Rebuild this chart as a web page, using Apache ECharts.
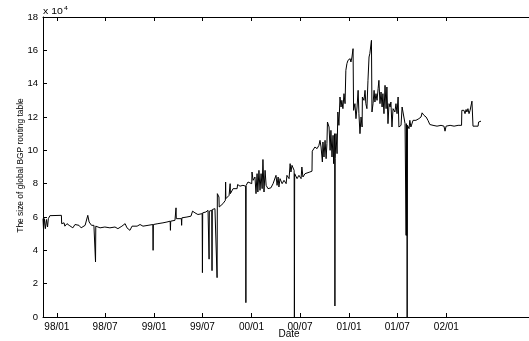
<!DOCTYPE html>
<html><head><meta charset="utf-8">
<script src="https://cdn.jsdelivr.net/npm/echarts@6/dist/echarts.min.js"></script>
<style>html,body{margin:0;padding:0;background:#fff}#c{width:529px;height:341px}</style>
</head><body><div id="c"></div>
<script>
// Size of global BGP routing table, in units of 10^4 entries
const dates = [
'1997-11-10','1997-11-12','1997-11-15','1997-11-19','1997-11-23','1997-11-27','1997-11-30','1997-12-04','1997-12-06',
'1998-01-18','1998-01-19','1998-01-28','1998-01-31','1998-02-08','1998-02-16','1998-02-23','1998-03-02','1998-03-10',
'1998-03-17','1998-03-25','1998-04-02','1998-04-09','1998-04-17','1998-04-24','1998-04-27','1998-05-02','1998-05-09',
'1998-05-11','1998-05-20','1998-05-25','1998-05-26','1998-05-27','1998-06-12','1998-06-30','1998-07-19','1998-08-07',
'1998-08-18','1998-09-02','1998-09-14','1998-09-21','1998-10-02','1998-10-10','1998-10-29','1998-11-09','1998-11-20',
'1998-12-09','1998-12-27','1998-12-28','1998-12-29','1999-01-15','1999-02-03','1999-02-18','1999-03-02','1999-03-03',
'1999-03-04','1999-03-20','1999-03-23','1999-03-24','1999-03-25','1999-04-13','1999-04-14','1999-04-15','1999-05-04',
'1999-05-19','1999-05-24','1999-05-25','1999-06-03','1999-06-14','1999-06-30','1999-07-01','1999-07-02','1999-07-14',
'1999-07-22','1999-07-25','1999-07-26','1999-07-27','1999-08-02','1999-08-05','1999-08-06','1999-08-07','1999-08-17',
'1999-08-24','1999-08-25','1999-08-26','1999-09-01','1999-09-02','1999-09-16','1999-09-25','1999-09-26','1999-09-27',
'1999-10-09','1999-10-12','1999-10-13','1999-10-14','1999-10-24','1999-10-31','1999-11-08','1999-11-10','1999-11-19',
'1999-11-30','1999-12-10','1999-12-11','1999-12-12','1999-12-19','1999-12-26','2000-01-02','2000-01-03','2000-01-07',
'2000-01-14','2000-01-18','2000-01-22','2000-01-25','2000-01-29','2000-02-02','2000-02-06','2000-02-10','2000-02-13',
'2000-02-17','2000-02-21','2000-02-25','2000-03-03','2000-03-14','2000-03-22','2000-03-29','2000-04-02','2000-04-06',
'2000-04-10','2000-04-13','2000-04-17','2000-04-25','2000-05-02','2000-05-10','2000-05-13','2000-05-21','2000-05-25',
'2000-05-28','2000-06-01','2000-06-09','2000-06-10','2000-06-11','2000-06-20','2000-06-27','2000-07-05','2000-07-08',
'2000-07-12','2000-07-20','2000-07-27','2000-08-07','2000-08-15','2000-08-16','2000-08-26','2000-09-03','2000-09-10',
'2000-09-14','2000-09-18','2000-09-22','2000-09-23','2000-09-25','2000-09-29','2000-10-03','2000-10-07','2000-10-10',
'2000-10-12','2000-10-18','2000-10-22','2000-10-25','2000-10-29','2000-11-02','2000-11-04','2000-11-08','2000-11-09',
'2000-11-10','2000-11-13','2000-11-17','2000-11-20','2000-11-24','2000-11-28','2000-12-02','2000-12-05','2000-12-09',
'2000-12-13','2000-12-17','2000-12-20','2000-12-24','2000-12-28','2001-01-05','2001-01-08','2001-01-12','2001-01-16',
'2001-01-18','2001-01-23','2001-01-27','2001-01-31','2001-02-04','2001-02-07','2001-02-11','2001-02-15','2001-02-19',
'2001-02-20','2001-02-26','2001-03-02','2001-03-05','2001-03-09','2001-03-13','2001-03-17','2001-03-20','2001-03-24',
'2001-03-26','2001-03-28','2001-04-01','2001-04-05','2001-04-08','2001-04-12','2001-04-16','2001-04-20','2001-04-23',
'2001-04-27','2001-05-01','2001-05-05','2001-05-08','2001-05-12','2001-05-16','2001-05-20','2001-05-23','2001-05-27',
'2001-05-31','2001-06-04','2001-06-07','2001-06-11','2001-06-15','2001-06-22','2001-06-26','2001-06-30','2001-07-04',
'2001-07-07','2001-07-15','2001-07-19','2001-07-26','2001-07-30','2001-08-02','2001-08-03','2001-08-04','2001-08-05',
'2001-08-06','2001-08-07','2001-08-08','2001-08-14','2001-08-17','2001-08-21','2001-08-29','2001-09-09','2001-09-20',
'2001-09-28','2001-10-02','2001-10-09','2001-10-17','2001-10-24','2001-10-31','2001-11-12','2001-11-27','2001-12-12',
'2001-12-23','2001-12-27','2001-12-31','2002-01-15','2002-01-30','2002-02-14','2002-02-27','2002-02-28','2002-03-08',
'2002-03-12','2002-03-16','2002-03-19','2002-03-23','2002-03-27','2002-03-31','2002-04-05','2002-04-07','2002-04-11',
'2002-04-22','2002-04-30','2002-05-02','2002-05-11'
];
const values = [
5.9,5.25,5.9,5.3,5.85,5.4,5.9,6.0,6.08,
6.1,5.6,5.65,5.45,5.6,5.5,5.6,5.35,5.55,
5.45,5.5,5.35,5.3,5.5,5.6,6.1,5.7,5.8,
5.5,5.5,5.5,3.3,5.45,5.35,5.4,5.35,5.4,
5.3,5.45,5.6,5.35,5.2,5.45,5.45,5.55,5.45,
5.5,5.55,4.0,5.55,5.6,5.65,5.7,5.75,5.2,
5.75,5.8,5.8,6.55,5.9,5.9,5.5,5.95,6.0,
6.05,6.05,6.35,6.25,6.15,6.2,2.66,6.25,6.3,
6.4,6.4,3.47,6.35,6.4,6.4,2.78,6.45,6.5,
6.55,2.36,7.4,7.2,6.6,6.8,7.0,8.1,7.1,
7.3,7.3,8.0,7.4,7.7,7.8,7.7,7.95,7.85,
7.9,7.85,0.86,7.9,8.1,8.0,8.0,8.7,8.2,
8.4,7.4,8.6,7.5,8.8,7.6,8.6,7.7,9.45,
7.5,8.8,7.9,7.7,7.75,8.0,7.9,8.5,7.9,
8.4,7.8,8.3,8.0,8.2,8.0,8.5,8.3,9.2,
8.7,9.1,8.8,0,8.6,8.3,8.5,8.3,9.0,
8.4,8.6,8.7,8.7,8.75,9.95,10.2,10.1,10.3,
10.6,10.2,10.1,9.3,10.5,9.6,10.6,9.5,10.4,
11.7,11.4,10.0,11.2,9.6,10.9,9.2,11.0,0.66,
9.5,11.0,9.8,12.3,11.5,13.2,12.6,13.0,12.5,
13.4,12.8,14.8,15.2,15.4,15.5,15.3,15.6,16.1,
12.4,12.8,11.9,12.6,13.6,12.2,11.0,12.0,11.4,
13.2,13.0,13.6,12.8,12.5,14.2,15.6,15.8,15.9,
16.6,12.3,12.8,13.6,12.9,13.4,13.0,13.7,14.2,
12.8,13.5,12.6,13.4,12.2,13.9,12.5,13.8,11.6,
12.8,12.6,12.9,11.4,12.5,12.3,12.8,12.2,13.2,
11.4,11.5,12.6,12.5,11.6,11.7,4.9,11.6,4.9,
11.5,0,11.5,11.3,11.8,11.4,11.8,11.8,11.9,
12.0,12.25,12.1,12.0,11.8,11.55,11.5,11.45,11.5,
11.45,11.15,11.45,11.5,11.45,11.5,11.5,12.4,12.4,
12.2,12.45,12.3,12.5,12.2,12.4,12.4,12.95,11.45,
11.45,11.45,11.7,11.75
];
const tickDates = ['1998-01-01','1998-07-01','1999-01-01','1999-07-01','2000-01-01','2000-07-01','2001-01-01','2001-07-01','2002-01-01'];
const tickLabels = ['98/01','98/07','99/01','99/07','00/01','00/07','01/01','01/07','02/01'];
const axisStart = '1997-11-10';
const axisEnd = '2002-11-07';
const yMin = 0, yMax = 18, yStep = 2;

function t(s){const p=s.split('-');return Date.UTC(+p[0],+p[1]-1,+p[2]);}
const seriesData = dates.map((d,i)=>[t(d), values[i]]);
const tickTimes = tickDates.map(t);
const FONT = '"Liberation Sans", Arial, Helvetica, sans-serif';

function tickLabel(v){
  let best=0,bd=Infinity;
  tickTimes.forEach((tt,i)=>{const dd=Math.abs(tt-v); if(dd<bd){bd=dd;best=i;}});
  return tickLabels[best];
}

const chart = echarts.init(document.getElementById('c'), null, {renderer:'canvas'});
chart.setOption({
  animation:false,
  backgroundColor:'#fff',
  grid:{left:43, right:0, top:17, bottom:24, outerBoundsMode:'none', containLabel:false},
  xAxis:[{
    type:'value', min:t(axisStart), max:t(axisEnd), position:'bottom', scale:true,
    axisLine:{show:true, lineStyle:{color:'#000', width:1}},
    axisTick:{show:true, inside:true, length:4, customValues:tickTimes, lineStyle:{color:'#000', width:1}},
    axisLabel:{show:true, customValues:tickTimes, margin:5, color:'#000', fontSize:10, fontFamily:FONT, formatter:(v)=>tickLabel(v)},
    splitLine:{show:false}, minorTick:{show:false}
  },{
    type:'value', min:t(axisStart), max:t(axisEnd), position:'top', scale:true,
    axisLine:{show:true, lineStyle:{color:'#000', width:1}},
    axisTick:{show:true, inside:true, length:4, customValues:tickTimes, lineStyle:{color:'#000', width:1}},
    axisLabel:{show:false}, splitLine:{show:false}
  }],
  yAxis:[{
    type:'value', min:yMin, max:yMax, interval:yStep,
    axisLine:{show:true, lineStyle:{color:'#000', width:1}},
    axisTick:{show:true, inside:true, length:4, lineStyle:{color:'#000', width:1}},
    axisLabel:{show:true, margin:5, color:'#000', fontSize:9.5, fontFamily:FONT},
    splitLine:{show:false}
  }],
  series:[{
    type:'line', xAxisIndex:0, yAxisIndex:0, data:seriesData,
    showSymbol:false, symbol:'none', silent:true,
    lineStyle:{color:'#000', width:1}
  }],
  graphic:[
    {type:'text', x:289, y:334.5, style:{text:'Date', align:'center', verticalAlign:'middle', fontSize:10, fontFamily:FONT, fill:'#000'}},
    {type:'text', x:20, y:165.5, rotation:Math.PI/2, scaleX:0.84, scaleY:0.95,
      style:{text:'The size of global BGP routing table', align:'center', verticalAlign:'middle', fontSize:10, fontFamily:FONT, fill:'#000'}},
    {type:'text', x:43, y:11.5, scaleY:0.8, style:{text:'x 10', align:'left', verticalAlign:'middle', fontSize:10.5, fontFamily:FONT, fill:'#000'}},
    {type:'text', x:64, y:8, scaleY:0.8, style:{text:'4', align:'left', verticalAlign:'middle', fontSize:7, fontFamily:FONT, fill:'#000'}}
  ]
});
</script></body></html>
